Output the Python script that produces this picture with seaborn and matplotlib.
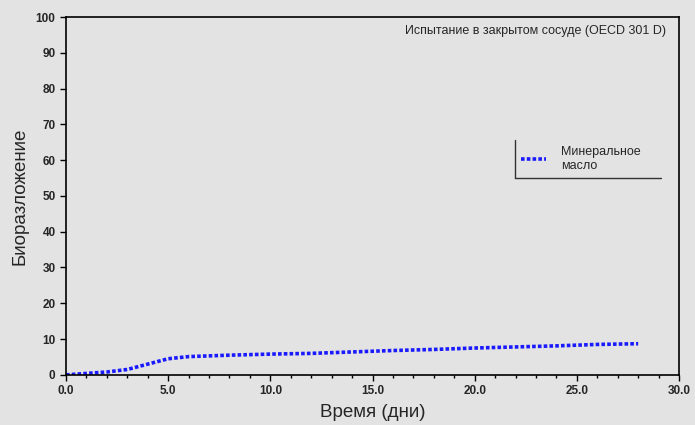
import numpy as np
import pandas as pd
import matplotlib
matplotlib.use("Agg")
import matplotlib.pyplot as plt
from matplotlib.lines import Line2D
import seaborn as sns

# days and biodegradation (%)
days = [0, 1, 2, 3, 4, 5, 6, 7, 8, 10, 12, 14, 16, 18, 20, 22, 24, 26, 28]
biodeg = [0.0, 0.4, 0.8, 1.5, 3.0, 4.5, 5.1, 5.3, 5.5, 5.8, 6.0, 6.4, 6.8, 7.1, 7.5, 7.8, 8.1, 8.5, 8.7]
series_name = "Минеральное\nмасло"

bg = "#e3e3e3"
sns.set_theme(style="ticks")
plt.rcParams['font.family'] = ['Liberation Sans', 'DejaVu Sans']

df = pd.DataFrame({"day": days, "value": biodeg})

fig = plt.figure(figsize=(6.95, 4.25), dpi=100, facecolor=bg)
ax = fig.add_axes([0.095, 0.118, 0.882, 0.842])
ax.set_facecolor(bg)

sns.lineplot(data=df, x="day", y="value", ax=ax, color="#1a1aff",
             linestyle=(0, (1, 0.6)), linewidth=2.6, label=series_name)

ax.set_xlim(0, 30)
ax.set_ylim(0, 100)
ax.set_xticks(np.arange(0, 31, 5))
ax.set_xticklabels([f"{v:.1f}" for v in np.arange(0, 31, 5)])
ax.set_xticks(np.arange(0, 31, 1), minor=True)
ax.set_yticks(np.arange(0, 101, 10))
for s in ax.spines.values():
    s.set_color("black")
    s.set_linewidth(1.2)
ax.tick_params(axis="both", which="major", labelsize=8.5, length=4, width=1, color="black")
ax.tick_params(axis="x", which="minor", length=2.5, width=1, color="black")
for lab in ax.get_xticklabels() + ax.get_yticklabels():
    lab.set_fontweight("bold")

ax.set_xlabel("Время (дни)", fontsize=13.5, labelpad=5)
ax.set_ylabel("Биоразложение", fontsize=13.5, labelpad=5)

ax.text(0.978, 0.978, "Испытание в закрытом сосуде (OECD 301 D)", transform=ax.transAxes,
        ha="right", va="top", fontsize=9)

leg = ax.legend(loc="upper left", bbox_to_anchor=(0.732, 0.4, 0.238, 0.256), mode="expand",
                fontsize=9, frameon=True, fancybox=False, handlelength=2.0,
                handletextpad=1.2, borderpad=0.5, borderaxespad=0)
leg.get_frame().set_facecolor(bg)
leg.get_frame().set_edgecolor("none")

# legend frame in the reference only shows its left and bottom edges
fig.canvas.draw()
bb = leg.get_window_extent().transformed(fig.transFigure.inverted())
fig.add_artist(Line2D([bb.x0, bb.x0], [bb.y0, bb.y1], color="#333333", lw=1.0))
fig.add_artist(Line2D([bb.x0, bb.x1], [bb.y0, bb.y0], color="#333333", lw=1.0))

fig.savefig("out.png", dpi=100, facecolor=bg)
